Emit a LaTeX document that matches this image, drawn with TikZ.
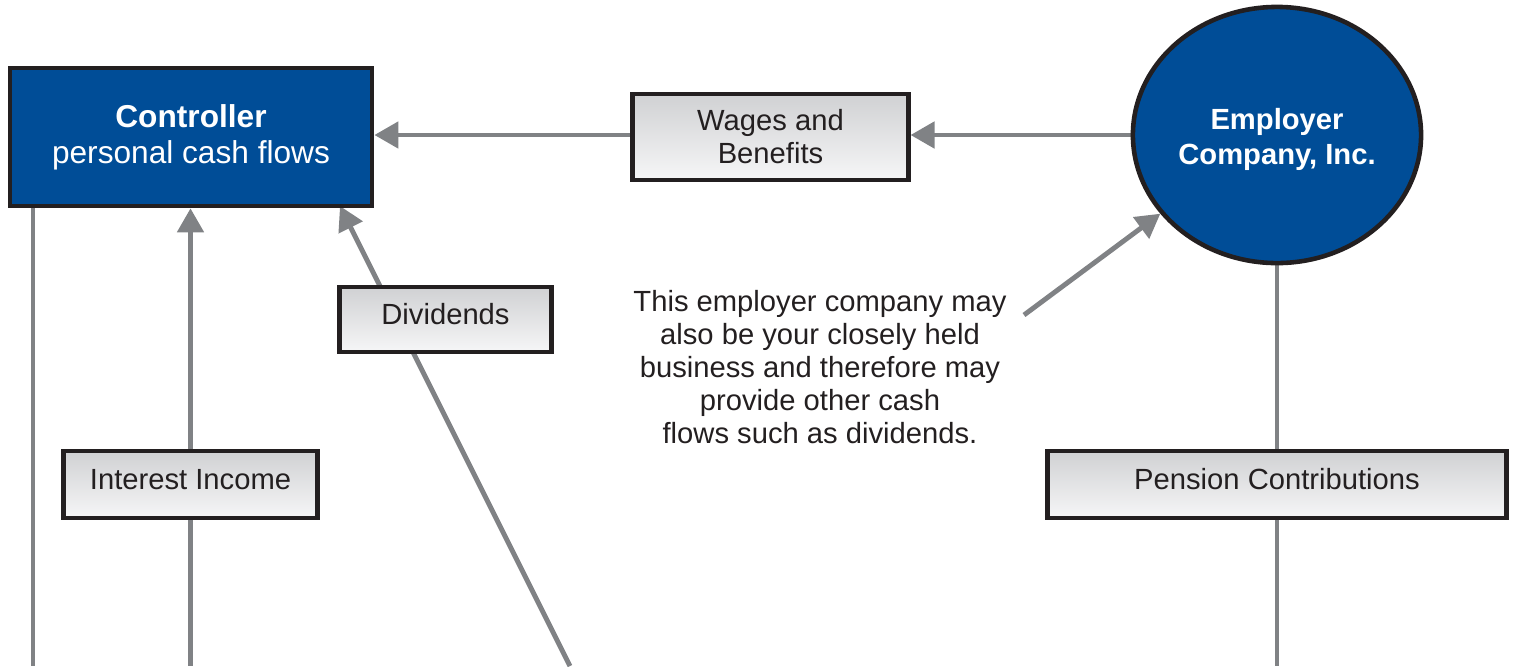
\documentclass[tikz,border=0pt]{standalone}
\usepackage{fontspec}
\setmainfont{Liberation Sans}
\usetikzlibrary{shapes.geometric,arrows.meta}
\pgfdeclarelayer{background}
\pgfsetlayers{background,main}
\definecolor{cblue}{RGB}{0,77,151}
\definecolor{cink}{RGB}{35,31,32}
\definecolor{cgray}{RGB}{128,130,133}
\definecolor{boxtop}{RGB}{208,209,211}
\definecolor{boxbot}{RGB}{246,246,247}
\tikzset{
  lbl/.style={rectangle, draw=cink, line width=1.4pt, top color=boxtop, bottom color=boxbot,
    text=cink, font=\fontsize{8.3}{9.4}\selectfont, align=center, inner sep=0pt},
  oneline/.style={text height=0.72em, text depth=0.45em},
  mainbox/.style={rectangle, draw=cink, line width=1.3pt, fill=cblue, text=white,
    font=\fontsize{9}{10.2}\selectfont, align=center, inner sep=0pt},
  flow/.style={draw=cgray, line width=1.4pt},
  flowarr/.style={flow, -{Triangle[length=0.24cm,width=0.26cm]}}
}
\begin{document}
\begin{tikzpicture}[x=0.01cm,y=-0.01cm]
\useasboundingbox (0,0) rectangle (1517,666);
\node[mainbox, minimum width=3.62cm, minimum height=1.38cm] (ctrl) at (191,137)
  {\textbf{Controller}\\personal cash flows};
\node[ellipse, draw=cink, line width=1.3pt, fill=cblue, text=white, inner sep=0pt,
  minimum width=2.88cm, minimum height=2.56cm, align=center,
  font=\fontsize{8.3}{10}\selectfont\bfseries] (emp) at (1277,135)
  {\rule{0pt}{2.0ex}Employer\\Company, Inc.};
\node[lbl, minimum width=2.75cm, minimum height=0.86cm] (wages) at (770.5,137)
  {Wages and\\Benefits};
\node[lbl, oneline, minimum width=2.11cm, minimum height=0.65cm] (div) at (445.5,319.5) {Dividends};
\node[lbl, oneline, minimum width=2.53cm, minimum height=0.67cm] (int) at (190.5,484.5) {Interest Income};
\node[lbl, oneline, minimum width=4.58cm, minimum height=0.67cm] (pen) at (1277,484.5) {Pension Contributions};
\node[align=center, text=cink, font=\fontsize{8.3}{9.4}\selectfont, inner sep=0pt] (note) at (820,367)
  {This employer company may\\also be your closely held\\business and therefore may\\provide other cash\\flows such as dividends.};
\coordinate (bl) at (33,666);
\coordinate (ib) at (190.5,666);
\coordinate (db) at (570,666);
\coordinate (dt) at (340,206);
\coordinate (pb) at (1277,666);
\coordinate (ann) at (1024,315);
\begin{pgfonlayer}{background}
\draw[flowarr] (emp.west) -- (emp.west -| wages.east);
\draw[flowarr] (wages.west |- emp.west) -- (ctrl.east |- emp.west);
\draw[flow] (ctrl.south -| bl) -- (bl);
\draw[flowarr] (int.north) -- (ctrl.south -| int.north);
\draw[flow] (int.south) -- (ib);
\draw[flowarr] (db) -- (dt);
\draw[flow] (emp.south) -- (pen.north);
\draw[flow] (pen.south) -- (pb);
\draw[flowarr] (ann) -- (emp.214);
\end{pgfonlayer}
\end{tikzpicture}
\end{document}
